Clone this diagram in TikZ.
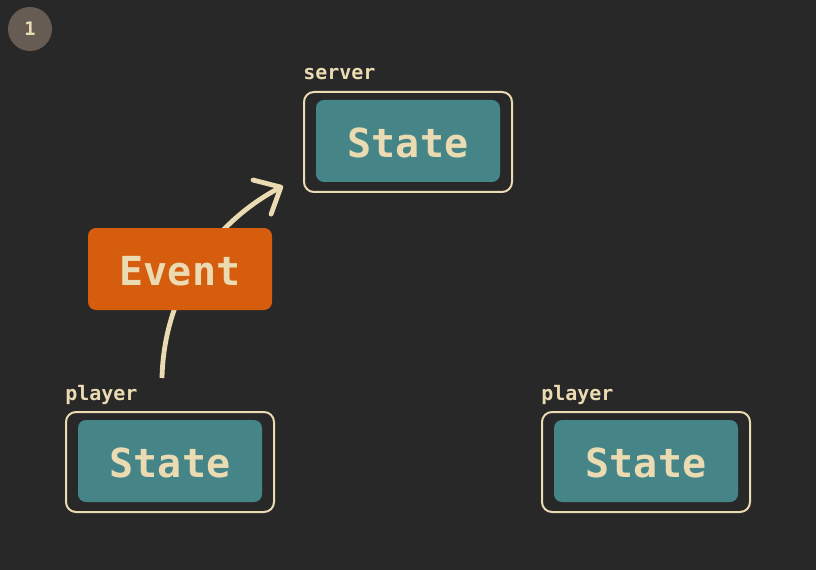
\documentclass[tikz,border=0pt]{standalone}
\usepackage{fontspec}
\setmonofont{DejaVu Sans Mono}
\usetikzlibrary{arrows.meta}
\definecolor{bgdark}{HTML}{282828}
\definecolor{cream}{HTML}{EBDBB2}
\definecolor{tealbox}{HTML}{458588}
\definecolor{orangebox}{HTML}{D65D0E}
\definecolor{badgegrey}{HTML}{665C54}
\newcommand{\lowered}[1]{\raisebox{-1.2pt}[\height][0pt]{#1}}
\tikzset{
  outerbox/.style={draw=cream, line width=1.5pt, rounded corners=7.5pt,
    minimum width=156pt, minimum height=75pt, inner sep=0pt},
  statebox/.style={fill=tealbox, rounded corners=6pt, minimum width=138pt,
    minimum height=61.5pt, inner sep=0pt, text=cream, font=\ttfamily\bfseries\fontsize{30pt}{30pt}\selectfont},
  eventbox/.style={fill=orangebox, rounded corners=6pt, minimum width=138pt,
    minimum height=61.5pt, inner sep=0pt, text=cream, font=\ttfamily\bfseries\fontsize{30pt}{30pt}\selectfont},
  boxlabel/.style={anchor=base west, inner sep=0pt, text=cream,
    font=\ttfamily\bfseries\fontsize{15pt}{15pt}\selectfont},
  badge/.style={circle, fill=badgegrey, minimum size=33pt, inner sep=0pt,
    text=cream, font=\ttfamily\bfseries\fontsize{14pt}{14pt}\selectfont},
  flowarrow/.style={draw=cream, line width=3.6pt,
    -{Straight Barb[length=16pt, width=29pt, round]}}
}
\begin{document}
\begin{tikzpicture}[x=0.75pt, y=-0.75pt]
  \fill[bgdark] (0,0) rectangle (816,570);
  \useasboundingbox (0,0) rectangle (816,570);

  \node[badge] (badge) at (30,29) {1};

  % server
  \node[outerbox] (serverouter) at (408,142) {};
  \node[statebox] (serverstate) at (408,141) {\lowered{State}};
  \node[boxlabel] (serverlabel) at (303,80) {server};

  % left player
  \node[outerbox] (p1outer) at (170,462) {};
  \node[statebox] (p1state) at (170,461) {\lowered{State}};
  \node[boxlabel] (p1label) at (65,400) {player};

  % right player
  \node[outerbox] (p2outer) at (646,462) {};
  \node[statebox] (p2state) at (646,461) {\lowered{State}};
  \node[boxlabel] (p2label) at (541,400) {player};

  % arrow
  \coordinate (evstart) at (162,378);
  \coordinate (evend) at (283,186);
  \draw[flowarrow] (evstart) .. controls (164,290) and (215,222) .. (evend);

  % event
  \node[eventbox] (event) at (180,269) {\lowered{Event}};
\end{tikzpicture}
\end{document}
